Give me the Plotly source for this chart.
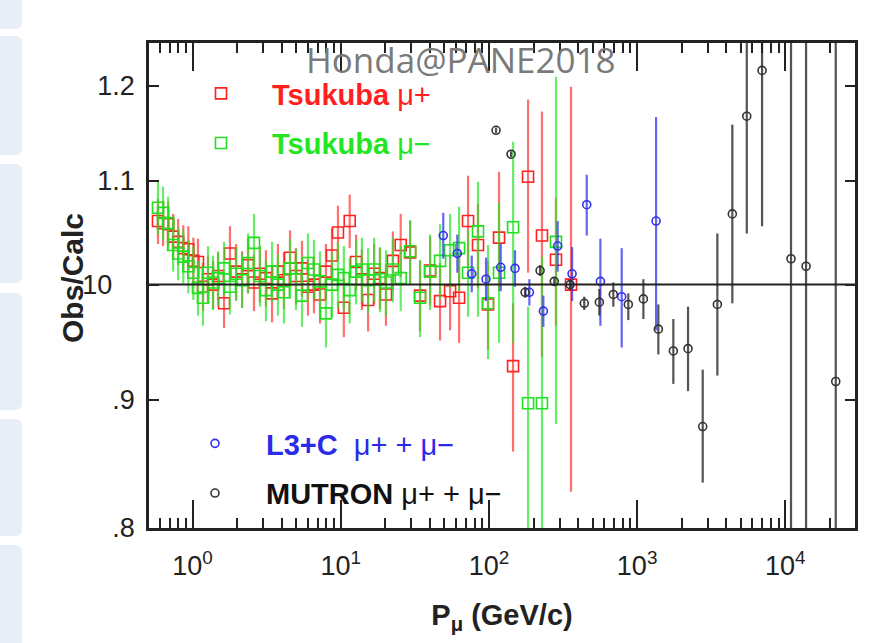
import plotly.graph_objects as go

# ---------------- data ----------------
# Tsukuba momentum bins (GeV/c)
tsukuba_p = [0.585, 0.633, 0.685, 0.740, 0.800, 0.866, 0.937, 1.013, 1.089, 1.177,
             1.272, 1.376, 1.487, 1.632, 1.79, 1.97, 2.16, 2.37, 2.60, 2.85,
             3.13, 3.44, 3.77, 4.14, 4.55, 4.99, 5.48, 6.01, 6.60, 7.25,
             7.95, 8.73, 9.58, 10.5, 11.5, 12.7, 13.9, 15.3, 16.8, 18.4,
             20.2, 22.5, 25.4, 29.4, 34.3, 40.1, 46.8, 54.7, 62.9, 72.3,
             84.4, 98.6, 117, 145.5, 183.7, 228, 283.5, 358]

tsukuba_plus = [1.060, 1.058, 1.057, 1.045, 1.040, 1.034, 1.033, 1.022, 1.021, 0.998,
                1.005, 1.000, 1.008, 0.983, 1.029, 1.012, 1.005, 1.018, 1.002, 1.010,
                1.006, 0.992, 1.012, 1.004, 1.025, 1.008, 1.015, 0.998, 1.000, 0.991,
                1.012, 1.027, 1.049, 0.979, 1.060, 1.021, 1.005, 0.986, 1.010, 1.006,
                0.991, 1.022, 1.037, 1.030, 0.990, 1.013, 0.985, 0.994, 0.988, 1.060,
                1.037, 0.982, 1.044, 0.928, 1.104, 1.046, 1.023, 1.000]
tsukuba_plus_up = [0.022] * 14 + [0.026] * 22 + [0.028] * 6 + [0.03, 0.03, 0.032, 0.032, 0.035, 0.035,
                   0.04, 0.045, 0.04, 0.04, 0.065, 0.055, 0.081, 0.126, 0.06, 0.199]
tsukuba_plus_dn = [0.022] * 14 + [0.026] * 22 + [0.028] * 6 + [0.03, 0.03, 0.032, 0.032, 0.035, 0.035,
                   0.04, 0.045, 0.04, 0.04, 0.05, 0.07, 0.093, 0.11, 0.06, 0.173]

tsukuba_minus = [1.073, 1.068, 1.058, 1.037, 1.029, 1.026, 1.017, 1.011, 0.997, 0.988,
                 1.011, 1.002, 1.006, 1.015, 0.998, 1.010, 1.004, 1.020, 1.039, 1.008,
                 0.995, 1.012, 1.000, 0.993, 1.015, 1.005, 0.990, 1.020, 1.014, 1.003,
                 0.974, 1.000, 1.009, 1.006, 0.995, 1.012, 1.014, 1.004, 1.014, 1.005,
                 1.002, 1.014, 1.006, 1.031, 0.988, 1.012, 1.022, 1.032, 1.034, 1.011,
                 1.050, 0.983, 1.011, 1.054, 0.897, 0.897, 1.040, None]
tsukuba_minus_up = [0.026] * 3 + [0.025] * 14 + [0.028] * 13 + [0.03] * 14 + [0.035] * 4 + [
                    0.04, 0.04, 0.049, 0.054, 0.067, 0.086, 0.083, 0.129, 0.17, 0.0]
tsukuba_minus_dn = [0.026] * 3 + [0.025] * 14 + [0.028] * 13 + [0.03] * 14 + [0.035] * 4 + [
                    0.04, 0.04, 0.079, 0.049, 0.063, 0.106, 0.12, 0.12, 0.16, 0.0]

l3c_p = [49.2, 61.2, 76.6, 95.6, 120.1, 150, 187.5, 233, 291, 364, 457, 565, 787, 1342]
l3c_r = [1.046, 1.029, 1.010, 1.005, 1.016, 1.015, 0.993, 0.976, 1.036, 1.010, 1.076, 1.003, 0.989, 1.060]
l3c_up = [0.022, 0.018, 0.017, 0.02, 0.022, 0.017, 0.012, 0.014, 0.024, 0.025, 0.03, 0.04, 0.045, 0.106]
l3c_dn = [0.022, 0.018, 0.017, 0.02, 0.022, 0.017, 0.012, 0.014, 0.024, 0.025, 0.03, 0.04, 0.045, 0.101]

mutron_p = [111.7, 141, 175.4, 221.4, 276, 352.5, 440, 556, 691, 872, 1102, 1390, 1755,
            2205, 2770, 3478, 4388, 5492, 6966, 10920, 13800, 21880]
mutron_r = [1.152, 1.127, 0.993, 1.013, 1.003, 1.000, 0.983, 0.984, 0.991, 0.982, 0.987,
            0.960, 0.941, 0.943, 0.878, 0.982, 1.067, 1.167, 1.217, 1.024, 1.017, 0.915]
mutron_up = [0.003, 0.003, 0.005, 0.005, 0.004, 0.005, 0.006, 0.012, 0.011, 0.010, 0.018,
             0.022, 0.028, 0.037, 0.047, 0.066, 0.091, 0.15, 0.2, 0.35, 0.35, 0.35]
mutron_dn = [0.003, 0.003, 0.005, 0.005, 0.004, 0.005, 0.006, 0.012, 0.011, 0.014, 0.018,
             0.022, 0.028, 0.036, 0.044, 0.062, 0.084, 0.119, 0.162, 0.35, 0.35, 0.35]

x_tickvals = [1, 10, 100, 1000, 10000]
x_ticktext = ["10<sup>0</sup>", "10<sup>1</sup>", "10<sup>2</sup>", "10<sup>3</sup>", "10<sup>4</sup>"]
y_tickvals = [0.8, 0.9, 1.0, 1.1, 1.2]
y_ticktext = [".8", ".9", "10\u00a0\u00a0\u00a0", "1.1", "1.2"]

# ---------------- figure ----------------
W, H = 873, 643
L, R, T, B = 149, 18, 43, 115
PW, PH = W - L - R, H - T - B


def px2paper(px, py):
    return (px - L) / PW, (H - B - py) / PH


fig = go.Figure()


def err(up, dn, color):
    return dict(type="data", symmetric=False, array=up, arrayminus=dn,
                color=color, thickness=2.2, width=0)


fig.add_trace(go.Scatter(
    x=tsukuba_p, y=tsukuba_plus, mode="markers",
    name="<span style='color:#ff1f1f'><b>Tsukuba</b> μ+</span>",
    marker=dict(symbol="square-open", size=11, color="#ff2020", line=dict(width=1.6)),
    error_y=err(tsukuba_plus_up, tsukuba_plus_dn, "rgba(255,50,50,0.7)"),
    legend="legend", legendgroup="a"))
fig.add_trace(go.Scatter(
    x=tsukuba_p, y=tsukuba_minus, mode="markers",
    name="<span style='color:#22e622'><b>Tsukuba</b> μ−</span>",
    marker=dict(symbol="square-open", size=11, color="#20e020", line=dict(width=1.6)),
    error_y=err(tsukuba_minus_up, tsukuba_minus_dn, "rgba(40,230,40,0.7)"),
    legend="legend", legendgroup="b"))
fig.add_trace(go.Scatter(
    x=l3c_p, y=l3c_r, mode="markers",
    name="<span style='color:#2a2ae8'><b>L3+C</b>  μ+ + μ−</span>",
    marker=dict(symbol="circle-open", size=8, color="#3030f0", line=dict(width=1.6)),
    error_y=err(l3c_up, l3c_dn, "rgba(50,50,240,0.75)"),
    legend="legend2", legendgroup="c"))
fig.add_trace(go.Scatter(
    x=mutron_p, y=mutron_r, mode="markers",
    name="<span style='color:#111111'><b>MUTRON</b> μ+ + μ−</span>",
    marker=dict(symbol="circle-open", size=8, color="#333333", line=dict(width=1.6)),
    error_y=err(mutron_up, mutron_dn, "rgba(40,40,40,0.8)"),
    legend="legend2", legendgroup="d"))

# reference line at 1
fig.add_shape(type="line", xref="paper", x0=0, x1=1, yref="y", y0=1.0, y1=1.0,
              line=dict(color="#222222", width=2), layer="above")

# side panel decoration (page background)
rad = 7
for (y0, y1) in [(-10, 29), (36, 155), (164, 283), (293, 410), (419, 536), (545, 660)]:
    xa, _ = px2paper(-10, 0)
    xb, _ = px2paper(22, 0)
    xr, _ = px2paper(22 - rad, 0)
    _, ya = px2paper(0, y0)
    _, yb = px2paper(0, y1)
    _, yr0 = px2paper(0, y0 + rad)
    _, yr1 = px2paper(0, y1 - rad)
    path = (f"M {xa},{ya} L {xr},{ya} Q {xb},{ya} {xb},{yr0} "
            f"L {xb},{yr1} Q {xb},{yb} {xr},{yb} L {xa},{yb} Z")
    fig.add_shape(type="path", xref="paper", yref="paper", path=path,
                  fillcolor="#e8eef7", line=dict(width=0), layer="below")

wx, wy = px2paper(461, 60)
fig.add_annotation(text="Honda@PANE2018", xref="paper", yref="paper", x=wx, y=wy,
                   xanchor="center", yanchor="middle",
                   showarrow=False, font=dict(family="Open Sans", size=35, color="#7a7a7a"))

tx, ty = px2paper(72, 278)
fig.add_annotation(text="<b>Obs/Calc</b>", xref="paper", yref="paper", x=tx, y=ty,
                   xanchor="center", yanchor="middle", textangle=-90,
                   showarrow=False, font=dict(family="Liberation Sans", size=30, color="#222"))

minor_vals = [m * 10 ** e for e in range(-1, 5) for m in range(2, 10)]

fig.update_xaxes(
    type="log", range=[-0.2935, 4.470],
    tickmode="array", tickvals=x_tickvals, ticktext=x_ticktext,
    ticks="inside", ticklen=28, tickwidth=2, tickcolor="#222",
    minor=dict(ticks="inside", ticklen=10, tickwidth=1.5, tickcolor="#222",
               tickmode="array", tickvals=minor_vals, showgrid=False),
    showline=True, linewidth=2.5, linecolor="#222", mirror="ticks",
    showgrid=False, zeroline=False,
    tickfont=dict(family="Liberation Sans", size=27, color="#222"),
    ticklabelstandoff=12,
    title=dict(text="<b>P<sub>μ</sub> (GeV/c)</b>",
               font=dict(family="Liberation Sans", size=29, color="#222"), standoff=25),
)
fig.update_yaxes(
    type="log", range=[-0.09691, 0.09621],
    tickmode="array", tickvals=y_tickvals, ticktext=y_ticktext,
    ticks="inside", ticklen=10, tickwidth=1.5, tickcolor="#222",
    showline=True, linewidth=2.5, linecolor="#222", mirror="ticks",
    showgrid=False, zeroline=False,
    tickfont=dict(family="Liberation Sans", size=27, color="#222"),
    ticklabelstandoff=6,
)

lx, ly = px2paper(170, 68)
l2x, l2y = px2paper(164, 418)
fig.update_layout(
    width=W, height=H,
    margin=dict(l=L, r=R, t=T, b=B),
    paper_bgcolor="white", plot_bgcolor="white",
    showlegend=True,
    legend=dict(x=lx, y=ly, xanchor="left", yanchor="top", bgcolor="rgba(0,0,0,0)",
                font=dict(family="Liberation Sans", size=29), itemwidth=92,
                tracegroupgap=9, traceorder="grouped"),
    legend2=dict(x=l2x, y=l2y, xanchor="left", yanchor="top", bgcolor="rgba(0,0,0,0)",
                 font=dict(family="Liberation Sans", size=29), itemwidth=92,
                 tracegroupgap=9, traceorder="grouped"),
)

fig.write_html("out.html")
